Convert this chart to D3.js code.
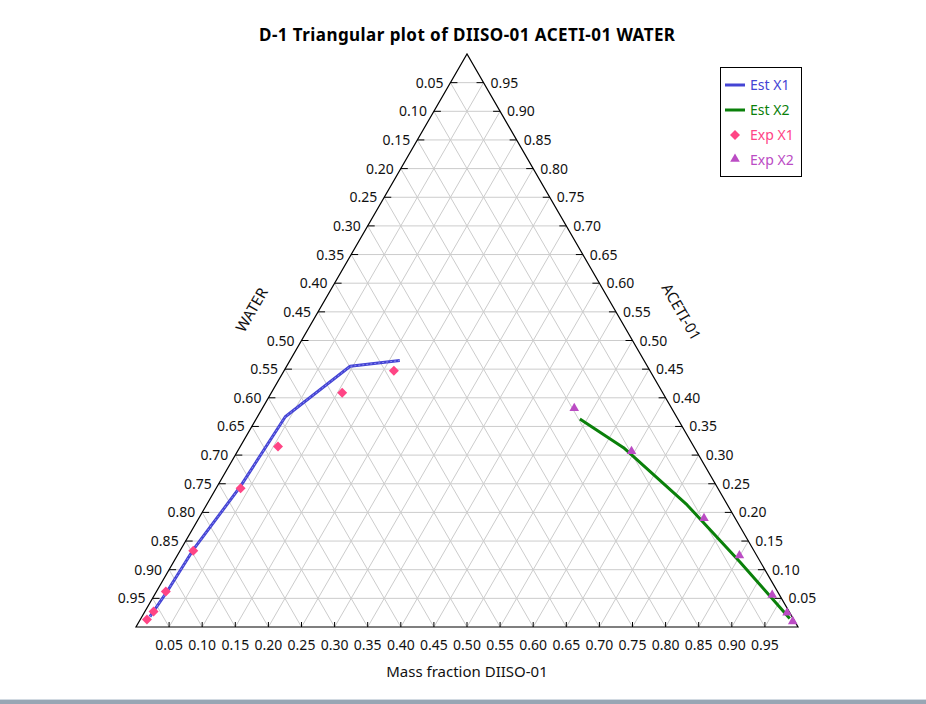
<!DOCTYPE html>
<html>
<head>
<meta charset="utf-8">
<script src="https://cdn.jsdelivr.net/npm/d3@7"></script>
<style>
  body { margin: 0; background: #fff; }
  text { font-family: "Noto Sans", "Open Sans", sans-serif; }
</style>
</head>
<body>
<svg id="chart" width="926" height="704"></svg>
<script>
// fractions: DIISO-01 (bottom) and ACETI-01 (right), WATER = 1 - both
const estX1Diiso = [0.012, 0.016, 0.019, 0.035, 0.042, 0.096, 0.166];
const estX1Aceti = [0.018, 0.062, 0.134, 0.245, 0.367, 0.455, 0.465];
const estX2Diiso = [0.489, 0.580, 0.726, 0.855, 0.980];
const estX2Aceti = [0.363, 0.313, 0.213, 0.114, 0.015];
const expX1Diiso = [0.010, 0.013, 0.014, 0.020, 0.037, 0.057, 0.107, 0.166];
const expX1Aceti = [0.013, 0.027, 0.062, 0.133, 0.242, 0.315, 0.409, 0.447];
const expX2Diiso = [0.472, 0.596, 0.764, 0.850, 0.934, 0.972, 0.988];
const expX2Aceti = [0.380, 0.305, 0.188, 0.123, 0.054, 0.023, 0.008];
const tickValues = d3.range(1, 20).map(i => +(i * 0.05).toFixed(2));
const legendNames = ["Est X1", "Est X2", "Exp X1", "Exp X2"];

const svg = d3.select("#chart");

const x = d3.scaleLinear().domain([0, 1]).range([136, 798]);
const y = d3.scaleLinear().domain([0, 1]).range([627, 54]);

// ternary point from DIISO (d) and ACETI (a)
function pt(d, a) {
    return [x(d) + (x(a) - x(0)) / 2, y(a)];
}

const grid = svg.append("g").attr("stroke", "#cccccc").attr("stroke-width", 1);
tickValues.forEach(t => {
    const segs = [
        [pt(0, t), pt(1 - t, t)],      // aceti constant
        [pt(t, 0), pt(t, 1 - t)],      // diiso constant
        [pt(1 - t, 0), pt(0, 1 - t)]   // water constant
    ];
    segs.forEach(s => {
        grid.append("line")
            .attr("x1", s[0][0]).attr("y1", s[0][1])
            .attr("x2", s[1][0]).attr("y2", s[1][1]);
    });
});

// triangle border
svg.append("path")
    .attr("d", d3.line()([pt(0, 0), pt(1, 0), pt(0, 1)]) + "Z")
    .attr("fill", "none")
    .attr("stroke", "black")
    .attr("stroke-width", 1.2);

const axes = svg.append("g").attr("font-size", 14).attr("fill", "#111");

// bottom axis: DIISO  (ticks point inward)
tickValues.forEach(t => {
    const p = pt(t, 0);
    axes.append("line").attr("x1", p[0]).attr("x2", p[0]).attr("y1", p[1]).attr("y2", p[1] - 5).attr("stroke", "black");
    axes.append("text").attr("x", p[0]).attr("y", p[1] + 23).attr("text-anchor", "middle").text(t.toFixed(2));
});

// left axis: WATER (point on left edge has aceti = 1 - water)
tickValues.forEach(t => {
    const p = pt(0, 1 - t);
    axes.append("line").attr("x1", p[0]).attr("x2", p[0] + 7).attr("y1", p[1]).attr("y2", p[1]).attr("stroke", "black");
    axes.append("text").attr("x", p[0] - 7).attr("y", p[1] + 5).attr("text-anchor", "end").text(t.toFixed(2));
});

// right axis: ACETI
tickValues.forEach(t => {
    const p = pt(1 - t, t);
    axes.append("line").attr("x1", p[0]).attr("x2", p[0] - 7).attr("y1", p[1]).attr("y2", p[1]).attr("stroke", "black");
    axes.append("text").attr("x", p[0] + 7).attr("y", p[1] + 5).attr("text-anchor", "start").text(t.toFixed(2));
});

axes.append("text")
    .attr("transform", "translate(252,310) rotate(-60)")
    .attr("text-anchor", "middle").attr("dy", 5).attr("font-size", 15)
    .text("WATER");
axes.append("text")
    .attr("transform", "translate(681,312) rotate(60)")
    .attr("text-anchor", "middle").attr("dy", 5).attr("font-size", 15)
    .text("ACETI-01");
axes.append("text")
    .attr("x", 467).attr("y", 677)
    .attr("text-anchor", "middle").attr("font-size", 15)
    .text("Mass fraction DIISO-01");

svg.append("text")
    .attr("x", 467).attr("y", 41)
    .attr("text-anchor", "middle")
    .attr("font-size", 17).attr("font-weight", "bold")
    .attr("textLength", 416).attr("lengthAdjust", "spacing")
    .attr("fill", "#000")
    .text("D-1 Triangular plot of DIISO-01 ACETI-01 WATER");

// lines
const line = d3.line();
const est1 = estX1Diiso.map((d, i) => pt(d, estX1Aceti[i]));
const est2 = estX2Diiso.map((d, i) => pt(d, estX2Aceti[i]));

svg.append("path").attr("d", line(est1)).attr("fill", "none")
    .attr("stroke", "#4444d4").attr("stroke-width", 3).attr("stroke-linejoin", "round");
svg.append("path").attr("d", line(est1)).attr("fill", "none")
    .attr("stroke", "#8c8cf0").attr("stroke-width", 1).attr("stroke-dasharray", "2,2");
svg.append("path").attr("d", line(est2)).attr("fill", "none")
    .attr("stroke", "#0a800a").attr("stroke-width", 3).attr("stroke-linejoin", "round");

// markers
const diamond = d3.symbol().type(d3.symbolSquare).size(50);
const tri = d3.symbol().type(d3.symbolTriangle).size(40);

svg.append("g").selectAll("path")
    .data(expX1Diiso.map((d, i) => pt(d, expX1Aceti[i])))
    .enter().append("path")
    .attr("d", diamond)
    .attr("transform", p => `translate(${p[0]},${p[1]}) rotate(45)`)
    .attr("fill", "#ff4585");

svg.append("g").selectAll("path")
    .data(expX2Diiso.map((d, i) => pt(d, expX2Aceti[i])))
    .enter().append("path")
    .attr("d", tri)
    .attr("transform", p => `translate(${p[0]},${p[1] - 1})`)
    .attr("fill", "#bb4cc4");

// legend
const legendColors = ["#4444d4", "#0a800a", "#ff4585", "#bb4cc4"];
const legend = svg.append("g");
legend.append("rect").attr("x", 720.5).attr("y", 67.5).attr("width", 81).attr("height", 109)
    .attr("fill", "white").attr("stroke", "black");
legendNames.forEach((name, i) => {
    const ly = 85 + i * 25;
    if (i < 2) {
        legend.append("line").attr("x1", 725).attr("x2", 745).attr("y1", ly).attr("y2", ly)
            .attr("stroke", legendColors[i]).attr("stroke-width", 3);
    } else if (i === 2) {
        legend.append("path").attr("d", diamond).attr("transform", `translate(735,${ly}) rotate(45)`).attr("fill", legendColors[i]);
    } else {
        legend.append("path").attr("d", tri).attr("transform", `translate(735,${ly - 1})`).attr("fill", legendColors[i]);
    }
    legend.append("text").attr("x", 750).attr("y", ly + 5).attr("font-size", 14)
        .attr("fill", legendColors[i]).text(name);
});

// bottom rule of the window
svg.append("rect").attr("x", 0).attr("y", 699).attr("width", 926).attr("height", 1).attr("fill", "#d2dae2");
svg.append("rect").attr("x", 0).attr("y", 700).attr("width", 926).attr("height", 4).attr("fill", "#98a6b4");
</script>
</body>
</html>
